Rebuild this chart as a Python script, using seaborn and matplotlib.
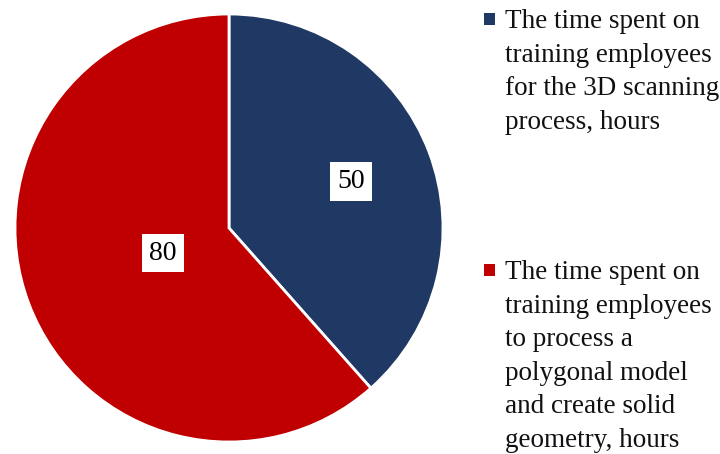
import matplotlib
matplotlib.use("Agg")
import matplotlib.pyplot as plt
import seaborn as sns
import numpy as np
from matplotlib.patches import Rectangle

sns.set_theme(style="white")
plt.rcParams["font.family"] = ["Liberation Serif", "DejaVu Serif"]

# Training time split
categories = [
    "The time spent on\ntraining employees\nfor the 3D scanning\nprocess, hours",
    "The time spent on\ntraining employees\nto process a\npolygonal model\nand create solid\ngeometry, hours",
]
values = [50, 80]
colors = ["#1F3864", "#C00000"]
label_distance = [0.61, 0.33]

fig = plt.figure(figsize=(7.2, 4.54), dpi=100)
W, H = 720, 454
cx, cy, r = 229, 228, 214
ax = fig.add_axes([(cx - r) / W, (H - cy - r) / H, 2 * r / W, 2 * r / H])

wedges, _ = ax.pie(
    values,
    colors=colors,
    startangle=90,
    counterclock=False,
    radius=1.0,
    wedgeprops=dict(edgecolor="white", linewidth=2.0),
)
ax.set_xlim(-1, 1)
ax.set_ylim(-1, 1)
ax.set_aspect("equal")
ax.axis("off")

# Value labels in white boxes
for w, v, d in zip(wedges, values, label_distance):
    ang = np.deg2rad((w.theta1 + w.theta2) / 2)
    ax.text(d * np.cos(ang), d * np.sin(ang), str(v), ha="center", va="center",
            fontsize=20, color="black",
            bbox=dict(boxstyle="square,pad=0.25", facecolor="white", edgecolor="none"))

# Legend entries on the right
text_tops = [9, 260]
marker_tops = [13, 264]
for top, mtop, lab, col in zip(text_tops, marker_tops, categories, colors):
    fig.patches.append(Rectangle((484 / W, (H - mtop - 12) / H), 11 / W, 12 / H,
                                 transform=fig.transFigure, facecolor=col,
                                 edgecolor="none"))
    fig.text(505 / W, (H - top) / H, lab, ha="left", va="top", fontsize=19.5,
             linespacing=1.45, color="#111111")

fig.savefig("out.png", dpi=100)
